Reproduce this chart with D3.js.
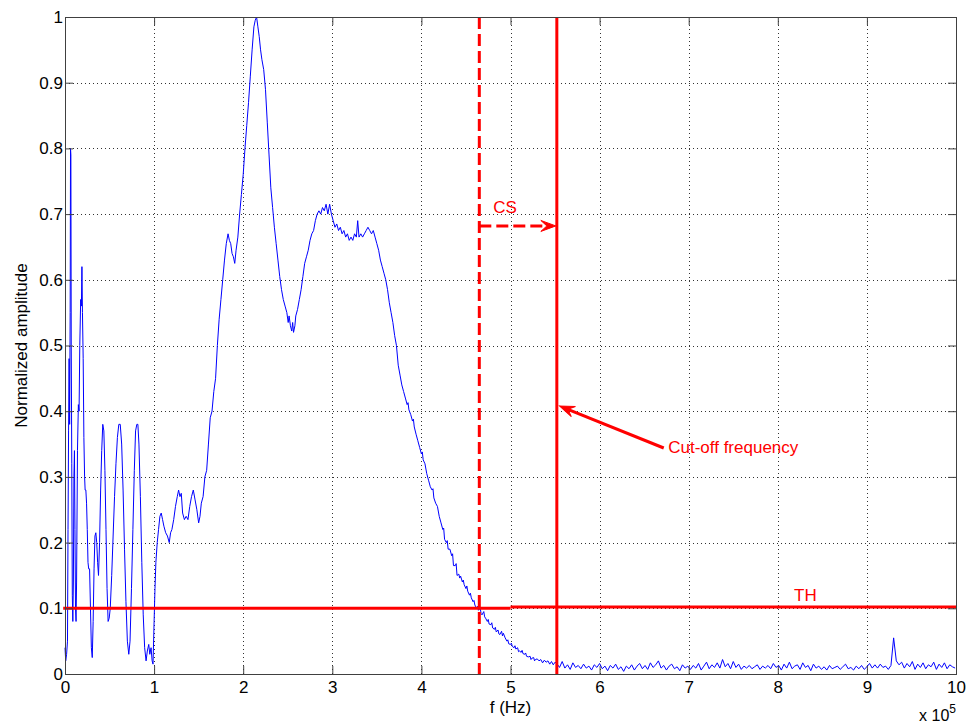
<!DOCTYPE html>
<html lang="en">
<head>
<meta charset="UTF-8">
<script src="https://d3js.org/d3.v7.min.js"></script>
<title>Normalized amplitude spectrum</title>
<style>
  body { margin: 0; background: #fff; }
  svg text { font-family: "Liberation Sans", Arial, Helvetica, sans-serif; }
</style>
</head>
<body>
<svg id="chart" width="966" height="724"></svg>
<script>
// frequency in units of 1e5 Hz, amplitude normalized to the max
const spectrumMain = [
  [0.000,0.04],[0.008,0.02],[0.018,0.03],[0.028,0.05],[0.034,0.22],[0.040,0.37],[0.046,0.48],[0.052,0.38],
  [0.058,0.55],[0.062,0.80],[0.066,0.79],[0.070,0.50],[0.076,0.32],[0.082,0.12],[0.088,0.08],[0.094,0.14],
  [0.100,0.30],[0.106,0.34],[0.112,0.22],[0.118,0.10],[0.124,0.08],[0.130,0.14],[0.140,0.34],[0.150,0.41],
  [0.158,0.40],[0.166,0.50],[0.176,0.57],[0.184,0.56],[0.190,0.62],[0.196,0.55],[0.204,0.48],[0.212,0.36],
  [0.220,0.30],[0.226,0.28],[0.234,0.28],[0.242,0.26],[0.250,0.22],[0.258,0.17],[0.266,0.16],[0.276,0.16],
  [0.286,0.10],[0.296,0.04],[0.306,0.025],[0.316,0.08],[0.326,0.16],[0.336,0.21],[0.346,0.215],[0.356,0.20],
  [0.366,0.17],[0.376,0.15],[0.388,0.20],[0.400,0.28],[0.412,0.34],[0.424,0.38],[0.436,0.37],[0.448,0.31],
  [0.460,0.22],[0.472,0.13],[0.484,0.08],[0.496,0.085],[0.508,0.10],[0.524,0.15],[0.540,0.21],[0.556,0.27],
  [0.572,0.32],[0.588,0.36],[0.604,0.38],[0.620,0.38],[0.636,0.35],[0.652,0.28],[0.668,0.19],[0.684,0.11],
  [0.700,0.05],[0.716,0.03],[0.730,0.05],[0.746,0.13],[0.762,0.22],[0.778,0.31],[0.792,0.37],[0.806,0.38],
  [0.818,0.38],[0.830,0.35],[0.846,0.27],[0.862,0.17],[0.878,0.09],[0.894,0.04],[0.910,0.02],[0.924,0.035],
  [0.940,0.045],[0.952,0.03],[0.966,0.04],[0.978,0.02],[0.988,0.015],
  [1.000,0.08],[1.010,0.13],[1.020,0.17],[1.035,0.20],[1.050,0.22],[1.065,0.24],[1.080,0.245],[1.095,0.235],
  [1.110,0.225],[1.130,0.215],[1.150,0.21],[1.170,0.20],[1.185,0.215],[1.200,0.22],[1.220,0.235],[1.240,0.255],
  [1.260,0.27],[1.275,0.28],[1.290,0.27],[1.305,0.275],[1.320,0.245],[1.340,0.235],[1.360,0.24],[1.380,0.235],
  [1.400,0.255],[1.420,0.27],[1.440,0.28],[1.460,0.265],[1.480,0.25],[1.500,0.23],[1.515,0.24],[1.530,0.26],
  [1.550,0.27],[1.570,0.30],[1.590,0.31],[1.610,0.35],[1.630,0.39],[1.650,0.40],[1.670,0.43],[1.690,0.45],
  [1.710,0.50],[1.730,0.54],[1.750,0.57],[1.770,0.60],[1.790,0.63],[1.810,0.655],[1.830,0.67],[1.845,0.66],
  [1.860,0.655],[1.875,0.64],[1.890,0.635],[1.905,0.625],[1.920,0.645],[1.940,0.665],[1.960,0.70],[1.980,0.73],
  [2.000,0.76],[2.020,0.80],[2.040,0.835],[2.060,0.87],[2.080,0.91],[2.100,0.95],[2.120,0.985],[2.135,0.995],
  [2.150,1.0],[2.165,0.985],[2.180,0.97],[2.195,0.95],[2.210,0.935],[2.230,0.92],[2.250,0.89],[2.270,0.84],
  [2.290,0.79],[2.310,0.74],[2.330,0.71],[2.350,0.68],[2.370,0.655],[2.390,0.63],[2.410,0.605],[2.430,0.585],
  [2.450,0.57],[2.470,0.56],[2.490,0.55],[2.505,0.535],[2.515,0.545],[2.530,0.53],[2.545,0.522],[2.555,0.535],
  [2.565,0.52],[2.580,0.53],[2.590,0.545],[2.610,0.555],[2.630,0.57],[2.650,0.585],[2.670,0.605],[2.690,0.625],
  [2.710,0.635],[2.730,0.645],[2.750,0.66],[2.770,0.67],[2.790,0.675],[2.810,0.69],[2.830,0.70],[2.850,0.705],
  [2.870,0.70],[2.890,0.71],[2.910,0.705],[2.930,0.715],[2.950,0.70],[2.970,0.715],[2.990,0.70],[3.010,0.69],
  [3.030,0.68],[3.050,0.685],[3.070,0.675],[3.090,0.68],[3.110,0.67],[3.130,0.675],[3.150,0.665],[3.170,0.67],
  [3.190,0.66],[3.210,0.665],[3.230,0.66],[3.250,0.67],[3.270,0.665],[3.285,0.69],[3.300,0.665],[3.320,0.67],
  [3.340,0.665],[3.360,0.67],[3.380,0.675],[3.400,0.68],[3.420,0.675],[3.440,0.67],[3.460,0.675],[3.480,0.665],
  [3.500,0.655],[3.520,0.645],[3.540,0.63],[3.560,0.62],[3.580,0.61],[3.600,0.60],[3.620,0.585],[3.640,0.565],
  [3.660,0.55],[3.680,0.535],[3.700,0.515],[3.720,0.50],[3.740,0.47],[3.760,0.455],[3.780,0.44],[3.800,0.43],
  [3.820,0.42],[3.840,0.41],[3.850,0.413],[3.860,0.402],[3.880,0.395],[3.900,0.385],[3.910,0.388],[3.920,0.376],
  [3.940,0.365],[3.960,0.355],[3.980,0.345],[4.000,0.335],[4.010,0.338],[4.020,0.326],[4.040,0.32],[4.060,0.305],
  [4.080,0.295],[4.100,0.285],[4.120,0.28],[4.130,0.282],[4.140,0.268],[4.160,0.26],[4.180,0.255],[4.200,0.24],
  [4.220,0.23],[4.240,0.22],[4.250,0.222],[4.260,0.205],[4.280,0.20],[4.290,0.203],[4.300,0.19],[4.320,0.19],
  [4.340,0.18],[4.350,0.183],[4.360,0.165],[4.380,0.165],[4.390,0.168],[4.400,0.15],[4.420,0.152],[4.430,0.146],
  [4.440,0.149],[4.460,0.14],[4.470,0.143],[4.480,0.136],[4.500,0.13],[4.510,0.134],[4.520,0.126],[4.540,0.12],
  [4.550,0.123],[4.560,0.116],[4.580,0.11],[4.590,0.112],[4.600,0.105],[4.620,0.10],[4.630,0.103],[4.640,0.097],
  [4.660,0.10],[4.670,0.092],[4.680,0.09],[4.700,0.095],[4.710,0.087],[4.720,0.085],[4.740,0.08],[4.750,0.083],
  [4.760,0.076],[4.780,0.075],[4.790,0.078],[4.800,0.07],[4.820,0.068],[4.830,0.071],[4.840,0.064],[4.860,0.067],
  [4.870,0.061],[4.880,0.06],[4.900,0.065],[4.910,0.058],[4.920,0.062],[4.940,0.055],[4.960,0.05],[4.970,0.052],
  [4.980,0.046],[5.000,0.045],[5.010,0.047],[5.020,0.042],[5.040,0.04],[5.050,0.043],[5.060,0.038],[5.080,0.04],
  [5.090,0.034],[5.100,0.035],[5.120,0.033],[5.130,0.036],[5.140,0.031],[5.160,0.03],[5.170,0.032],[5.180,0.027],
  [5.200,0.026],[5.220,0.027],[5.230,0.022],[5.240,0.024],[5.260,0.025],[5.270,0.02],[5.280,0.022],[5.300,0.023],
  [5.320,0.02],[5.340,0.022],[5.360,0.017],[5.380,0.021],[5.400,0.018],[5.420,0.02],[5.440,0.015],[5.460,0.019],
  [5.480,0.014],[5.500,0.018]
];

// noise floor above 5.5e5 Hz, sampled every 0.03e5 Hz
const tailStart = 5.52;
const tailStep = 0.03;
const tailAmp = [
  0.016,0.010,0.019,0.009,0.014,0.007,0.017,0.010,0.013,0.008,
  0.015,0.009,0.012,0.006,0.014,0.010,0.016,0.008,0.012,0.005,
  0.013,0.009,0.015,0.007,0.011,0.004,0.012,0.008,0.014,0.006,
  0.012,0.016,0.008,0.013,0.007,0.017,0.010,0.014,0.020,0.009,
  0.013,0.006,0.012,0.015,0.008,0.011,0.005,0.014,0.009,0.012,
  0.007,0.013,0.009,0.016,0.006,0.012,0.018,0.008,0.014,0.010,
  0.017,0.009,0.022,0.011,0.016,0.008,0.019,0.010,0.015,0.007,
  0.012,0.009,0.013,0.008,0.011,0.014,0.007,0.012,0.009,0.013,
  0.008,0.016,0.010,0.013,0.006,0.015,0.009,0.018,0.008,0.012,
  0.014,0.007,0.017,0.010,0.013,0.005,0.015,0.009,0.012,0.007,
  0.011,0.006,0.013,0.008,0.010,0.012,0.007,0.011,0.015,0.008,
  0.010,0.006,0.012,0.008,0.013,0.007,0.011,0.016,0.009,0.014,
  0.009,0.015,0.010,0.012,0.007,0.013,0.055,0.020,0.014,0.018,
  0.009,0.016,0.011,0.019,0.007,0.015,0.010,0.017,0.008,0.014,
  0.011,0.018,0.007,0.015,0.010,0.017,0.008,0.014,0.011,0.009
];

const xTicks = [0, 1, 2, 3, 4, 5, 6, 7, 8, 9, 10];
const yTicks = [0, 0.1, 0.2, 0.3, 0.4, 0.5, 0.6, 0.7, 0.8, 0.9, 1];

// annotations (same units as the data)
const thLeft = { from: -0.02, to: 5.0, level: 0.1 };
const thRight = { from: 5.0, to: 10, level: 0.102 };
const csFreq = 4.65;
const cutoffFreq = 5.52;
const csArrowLevel = 0.682;
const cutoffArrow = { from: [6.72, 0.344], to: [5.55, 0.408] };
const labels = [
  { text: "CS", f: 4.94, a: 0.71, anchor: "middle" },
  { text: "Cut-off frequency", f: 6.77, a: 0.346, anchor: "start" },
  { text: "TH", f: 8.31, a: 0.12, anchor: "middle" }
];

const red = "#ff0000";
const axisColor = "#404040";

const svg = d3.select("#chart");
const width = +svg.attr("width"), height = +svg.attr("height");
const margin = { top: 17, right: 10, bottom: 50, left: 65 };

const x = d3.scaleLinear().domain([0, 10]).range([margin.left, width - margin.right]);
const y = d3.scaleLinear().domain([0, 1]).range([height - margin.bottom, margin.top]);

// dotted grid
const grid = svg.append("g").attr("stroke", "#333").attr("stroke-dasharray", "1,3").attr("stroke-width", 1);
grid.selectAll(".vgrid")
  .data(xTicks.slice(1, -1))
  .join("line")
  .attr("class", "vgrid")
  .attr("x1", d => Math.round(x(d)) + 0.5).attr("x2", d => Math.round(x(d)) + 0.5)
  .attr("y1", y(1)).attr("y2", y(0));
grid.selectAll(".hgrid")
  .data(yTicks.slice(1, -1))
  .join("line")
  .attr("class", "hgrid")
  .attr("x1", x(0)).attr("x2", x(10))
  .attr("y1", d => Math.round(y(d)) + 0.5).attr("y2", d => Math.round(y(d)) + 0.5);

// spectrum
const spectrum = spectrumMain.concat(tailAmp.map((a, i) => [tailStart + i * tailStep, a]));
const line = d3.line().x(d => x(d[0])).y(d => y(d[1]));
svg.append("path")
  .datum(spectrum)
  .attr("fill", "none")
  .attr("stroke", "#0000ff")
  .attr("stroke-width", 1)
  .attr("d", line);

// threshold TH
[thLeft, thRight].forEach(t => {
  svg.append("line")
    .attr("x1", x(t.from)).attr("x2", x(t.to))
    .attr("y1", y(t.level)).attr("y2", y(t.level))
    .attr("stroke", red).attr("stroke-width", 3);
});

// CS (dashed) and cut-off (solid) verticals
svg.append("line")
  .attr("x1", x(csFreq)).attr("x2", x(csFreq))
  .attr("y1", y(1)).attr("y2", y(0))
  .attr("stroke", red).attr("stroke-width", 3).attr("stroke-dasharray", "12,5");
svg.append("line")
  .attr("x1", x(cutoffFreq)).attr("x2", x(cutoffFreq))
  .attr("y1", y(1)).attr("y2", y(0))
  .attr("stroke", red).attr("stroke-width", 3);

function arrow(x1, y1, x2, y2, dashed) {
  const ang = Math.atan2(y2 - y1, x2 - x1);
  const len = 15, wid = 11;
  const g = svg.append("g");
  g.append("line")
    .attr("x1", x1).attr("y1", y1)
    .attr("x2", x2 - Math.cos(ang) * len * 0.6).attr("y2", y2 - Math.sin(ang) * len * 0.6)
    .attr("stroke", red).attr("stroke-width", 3)
    .attr("stroke-dasharray", dashed ? "12,5" : null);
  g.append("path")
    .attr("d", `M0,0L${-len},${-wid / 2}L${-len * 0.6},0L${-len},${wid / 2}Z`)
    .attr("transform", `translate(${x2},${y2}) rotate(${ang * 180 / Math.PI})`)
    .attr("fill", red).attr("stroke", red).attr("stroke-width", 1);
}
arrow(x(csFreq), y(csArrowLevel), x(cutoffFreq) - 1, y(csArrowLevel), true);
arrow(x(cutoffArrow.from[0]), y(cutoffArrow.from[1]), x(cutoffArrow.to[0]), y(cutoffArrow.to[1]), false);

svg.append("g")
  .selectAll("text")
  .data(labels)
  .join("text")
  .attr("x", d => x(d.f))
  .attr("y", d => y(d.a))
  .attr("dy", "0.35em")
  .attr("text-anchor", d => d.anchor)
  .attr("fill", red)
  .attr("font-size", 17)
  .text(d => d.text);

// box + inward ticks on all four sides
svg.append("rect")
  .attr("x", x(0) + 0.5).attr("y", y(1) + 0.5)
  .attr("width", x(10) - x(0)).attr("height", y(0) - y(1))
  .attr("fill", "none").attr("stroke", axisColor);

function styleAxis(g) {
  g.select(".domain").remove();
  g.selectAll(".tick line").attr("stroke", axisColor);
  g.selectAll(".tick text").attr("fill", "#000").attr("font-size", 17)
    .attr("font-family", "Liberation Sans, Arial, sans-serif");
}

svg.append("g")
  .attr("transform", `translate(0,${y(0)})`)
  .call(d3.axisBottom(x).tickValues(xTicks).tickSizeInner(-8).tickSizeOuter(0).tickPadding(7).tickFormat(d3.format("d")))
  .call(styleAxis);
svg.append("g")
  .attr("transform", `translate(0,${y(1)})`)
  .call(d3.axisTop(x).tickValues(xTicks).tickSizeInner(-8).tickSizeOuter(0).tickFormat(() => ""))
  .call(styleAxis);
svg.append("g")
  .attr("transform", `translate(${x(0)},0)`)
  .call(d3.axisLeft(y).tickValues(yTicks).tickSizeInner(-8).tickSizeOuter(0).tickPadding(2).tickFormat(d3.format("~g")))
  .call(styleAxis);
svg.append("g")
  .attr("transform", `translate(${x(10)},0)`)
  .call(d3.axisRight(y).tickValues(yTicks).tickSizeInner(-8).tickSizeOuter(0).tickFormat(() => ""))
  .call(styleAxis);

// axis titles
svg.append("text")
  .attr("x", (x(0) + x(10)) / 2)
  .attr("y", 713)
  .attr("text-anchor", "middle")
  .attr("font-size", 17)
  .text("f (Hz)");

svg.append("text")
  .attr("transform", `translate(27,${(y(0) + y(1)) / 2}) rotate(-90)`)
  .attr("text-anchor", "middle")
  .attr("font-size", 17)
  .text("Normalized amplitude");

const expo = svg.append("text")
  .attr("x", x(10))
  .attr("y", 721)
  .attr("text-anchor", "end")
  .attr("font-size", 16);
expo.append("tspan").text("x 10");
expo.append("tspan").attr("dy", -8).attr("font-size", 12).text("5");
</script>
</body>
</html>
